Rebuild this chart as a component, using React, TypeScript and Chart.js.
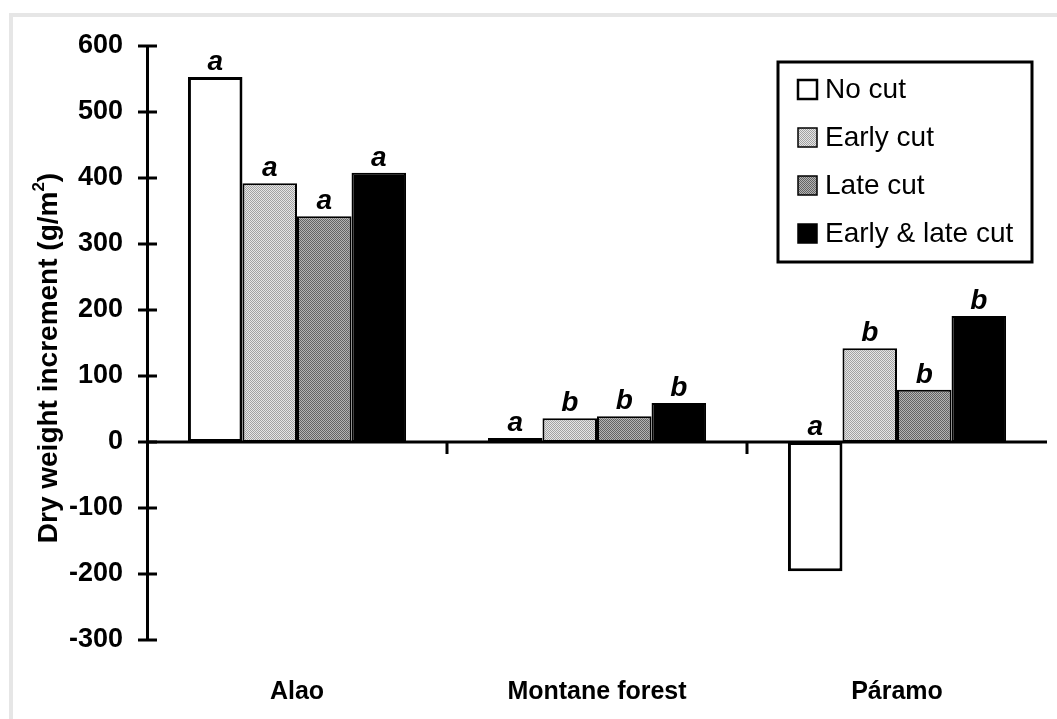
import React, { useEffect, useRef } from 'react';
import { Chart, registerables } from 'chart.js';

Chart.register(...registerables);

const categories = ['Alao', 'Montane forest', 'Páramo'];
const seriesNames = ['No cut', 'Early cut', 'Late cut', 'Early & late cut'];
const noCut = [553, 6, -196];
const earlyCut = [392, 36, 142];
const lateCut = [342, 39, 79];
const earlyLateCut = [408, 59, 191];
const noCutLetters = ['a', 'a', 'a'];
const earlyCutLetters = ['a', 'b', 'b'];
const lateCutLetters = ['a', 'b', 'b'];
const earlyLateCutLetters = ['a', 'b', 'b'];
const yMin = -300;
const yMax = 600;
const yStep = 100;
const yTitleMain = 'Dry weight increment (g/m';
const yTitleSup = '2';
const yTitleEnd = ')';

const FONT = '"Liberation Sans", Arial, sans-serif';

function makePattern(ctx: CanvasRenderingContext2D, light: string, dark: string) {
  const c = document.createElement('canvas');
  c.width = 2;
  c.height = 2;
  const p = c.getContext('2d')!;
  p.fillStyle = light;
  p.fillRect(0, 0, 2, 2);
  p.fillStyle = dark;
  p.fillRect(0, 0, 1, 1);
  p.fillRect(1, 1, 1, 1);
  return ctx.createPattern(c, 'repeat') as CanvasPattern;
}

export default function App() {
  const ref = useRef<HTMLCanvasElement | null>(null);

  useEffect(() => {
    const canvas = ref.current!;
    const ctx = canvas.getContext('2d')!;
    const earlyPat = makePattern(ctx, '#e6e6e6', '#a2a2a2');
    const latePat = makePattern(ctx, '#b4b4b4', '#636363');

    const fills: any[] = ['#ffffff', earlyPat, latePat, '#000000'];
    const letters = [noCutLetters, earlyCutLetters, lateCutLetters, earlyLateCutLetters];
    const values = [noCut, earlyCut, lateCut, earlyLateCut];

    const decor = {
      id: 'decor',
      afterDatasetsDraw(chart: any) {
        const c = chart.ctx as CanvasRenderingContext2D;
        const area = chart.chartArea;
        const ys = chart.scales.y;
        const xs = chart.scales.x;
        const zeroY = ys.getPixelForValue(0);
        c.save();
        // zero line
        c.strokeStyle = '#000';
        c.lineWidth = 3;
        c.beginPath();
        c.moveTo(area.left, zeroY);
        c.lineTo(area.right, zeroY);
        c.stroke();
        // category boundary ticks
        for (let i = 0; i < categories.length - 1; i++) {
          const bx = (xs.getPixelForValue(i) + xs.getPixelForValue(i + 1)) / 2;
          c.beginPath();
          c.moveTo(bx, zeroY);
          c.lineTo(bx, zeroY + 12);
          c.stroke();
        }
        // y axis ticks (crossing)
        for (let v = yMin; v <= yMax; v += yStep) {
          const py = ys.getPixelForValue(v);
          c.beginPath();
          c.moveTo(area.left - 9, py);
          c.lineTo(area.left + 10, py);
          c.stroke();
        }
        // significance letters
        c.fillStyle = '#000';
        c.font = `italic bold 28px ${FONT}`;
        c.textAlign = 'center';
        c.textBaseline = 'alphabetic';
        letters.forEach((arr, di) => {
          const meta = chart.getDatasetMeta(di);
          meta.data.forEach((bar: any, j: number) => {
            const top = Math.min(bar.y, bar.base);
            c.fillText(arr[j], bar.x, top - 7);
          });
        });
        // y title
        c.save();
        c.translate(57, 358);
        c.rotate(-Math.PI / 2);
        c.font = `bold 28px ${FONT}`;
        const w1 = c.measureText(yTitleMain).width;
        c.font = `bold 17px ${FONT}`;
        const w2 = c.measureText(yTitleSup).width;
        c.font = `bold 28px ${FONT}`;
        const w3 = c.measureText(yTitleEnd).width;
        const total = w1 + w2 + w3;
        const x0 = -total / 2;
        c.textAlign = 'left';
        c.fillText(yTitleMain, x0, 0);
        c.font = `bold 17px ${FONT}`;
        c.fillText(yTitleSup, x0 + w1, -13);
        c.font = `bold 28px ${FONT}`;
        c.fillText(yTitleEnd, x0 + w1 + w2, 0);
        c.restore();
        // legend
        const lx = area.right - 269;
        const ly = area.top + 16;
        const lw = 254;
        const lh = 200;
        c.fillStyle = '#fff';
        c.fillRect(lx, ly, lw, lh);
        c.lineWidth = 3;
        c.strokeStyle = '#000';
        c.strokeRect(lx, ly, lw, lh);
        c.font = `28px ${FONT}`;
        c.textAlign = 'left';
        c.textBaseline = 'middle';
        seriesNames.forEach((name, i) => {
          const cy = ly + 27 + i * 48;
          c.fillStyle = fills[i];
          c.fillRect(lx + 20, cy - 9, 19, 19);
          c.lineWidth = i === 0 ? 2.5 : 1.5;
          c.strokeStyle = '#000';
          c.strokeRect(lx + 20, cy - 9, 19, 19);
          c.fillStyle = '#000';
          c.fillText(name, lx + 47, cy + 1);
        });
        c.restore();
      },
    };

    const chart = new Chart(canvas, {
      type: 'bar',
      data: {
        labels: categories,
        datasets: seriesNames.map((name, i) => ({
          label: name,
          data: values[i],
          backgroundColor: fills[i],
          borderColor: '#000',
          borderWidth: i === 0 ? 3 : 2,
          borderSkipped: false,
          categoryPercentage: 0.727,
          barPercentage: 1,
        })),
      },
      options: {
        animation: false,
        responsive: false,
        devicePixelRatio: 1,
        layout: { padding: { top: 46, right: 10, left: 0, bottom: 0 } },
        plugins: {
          legend: { display: false },
          tooltip: { enabled: false },
        },
        scales: {
          x: {
            grid: { display: false, drawTicks: false },
            border: { display: false },
            ticks: {
              color: '#000',
              font: { family: FONT, size: 25, weight: 'bold' },
              padding: 37,
              maxRotation: 0,
            },
            afterFit: (s: any) => {
              s.height = 79;
            },
          },
          y: {
            min: yMin,
            max: yMax,
            grid: { display: false, drawTicks: false },
            border: { display: true, color: '#000', width: 3 },
            ticks: {
              stepSize: yStep,
              color: '#000',
              font: { family: FONT, size: 27, weight: 'bold' },
              padding: 24,
            },
            afterFit: (s: any) => {
              s.width = 147;
            },
          },
        },
      },
      plugins: [decor],
    } as any);

    return () => chart.destroy();
  }, []);

  return (
    <div style={{ position: 'absolute', left: 0, top: 0, width: 1057, height: 719, background: '#fff', overflow: 'hidden' }}>
      <div
        style={{
          position: 'absolute',
          left: 9,
          top: 13,
          width: 1060,
          height: 720,
          borderLeft: '4px solid #e6e6e6',
          borderTop: '4px solid #e6e6e6',
        }}
      />
      <canvas ref={ref} width={1057} height={719} style={{ position: 'absolute', left: 0, top: 0 }} />
    </div>
  );
}
